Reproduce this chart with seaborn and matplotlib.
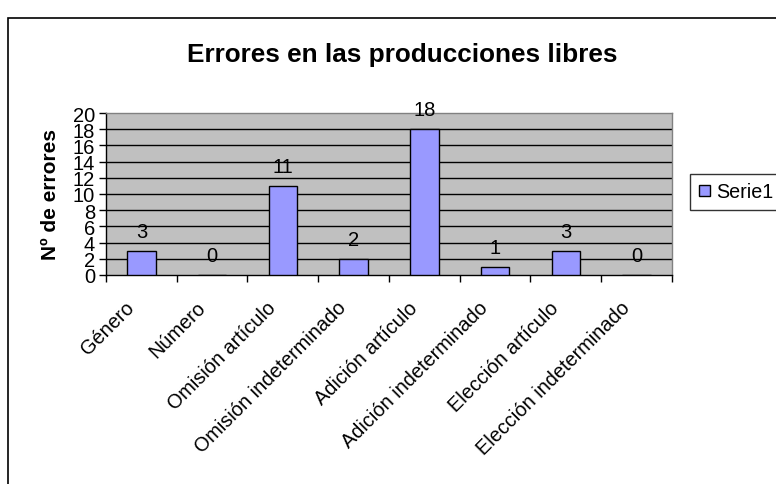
import matplotlib
matplotlib.use("Agg")
import matplotlib.pyplot as plt
import seaborn as sns
import pandas as pd
from matplotlib.patches import Rectangle, Patch

categories = ["Género", "Número", "Omisión artículo", "Omisión indeterminado",
              "Adición artículo", "Adición indeterminado", "Elección artículo",
              "Elección indeterminado"]
values = [3, 0, 11, 2, 18, 1, 3, 0]
yticks = list(range(0, 21, 2))
series_name = "Serie1"
title = "Errores en las producciones libres"
ylabel = "Nº de errores"

sns.set_style("white")
plt.rcParams['font.family'] = ['Liberation Sans', 'DejaVu Sans']
plt.rcParams['text.color'] = 'black'
plt.rcParams['xtick.color'] = 'black'
plt.rcParams['ytick.color'] = 'black'
plt.rcParams['axes.labelcolor'] = 'black'

df = pd.DataFrame({"cat": categories, "val": values})

fig = plt.figure(figsize=(7.76, 4.85), dpi=100)
ax = fig.add_axes([106/776, 1-276/485, (672-106)/776, (276-114)/485])
ax.set_facecolor("#C0C0C0")

sns.barplot(data=df, x="cat", y="val", color="#9999FF", edgecolor="black",
            linewidth=1, width=0.4, saturation=1, ax=ax, zorder=3)

ax.set_ylim(0, 20)
ax.set_xlim(-0.5, len(categories) - 0.5)
ax.set_yticks(yticks)
ax.set_yticklabels([str(t) for t in yticks], fontsize=14.5)
for t in yticks[1:-1]:
    ax.axhline(t, color="black", lw=1, zorder=1)

# label anchors sit slightly left of each category centre, as in the reference
label_offset = 0.14
ax.set_xticks([i - label_offset for i in range(len(categories))])
ax.set_xticklabels(categories, fontsize=14.3, rotation=45, ha="right",
                   rotation_mode="anchor", va="center")
ax.set_xticks([i - 0.5 for i in range(len(categories) + 1)], minor=True)
ax.tick_params(axis="x", which="major", length=0, pad=21)
ax.tick_params(axis="x", which="minor", length=5, width=1, color="black", direction="out", bottom=True)
ax.tick_params(axis="y", length=5, width=1, color="black", direction="out", left=True, pad=3)

ax.set_xlabel("")
ax.set_ylabel("")
for s in ["left", "bottom"]:
    ax.spines[s].set_color("black")
    ax.spines[s].set_linewidth(1)
for s in ["top", "right"]:
    ax.spines[s].set_color("#808080")
    ax.spines[s].set_linewidth(1)

for c in ax.containers:
    ax.bar_label(c, labels=[str(v) for v in values], padding=7, fontsize=14.5)

fig.text(402/776, 1-62/485, title, ha="center", va="baseline", fontsize=18.8, fontweight="bold")
fig.text(51/776, 1-195/485, ylabel, ha="center", va="center", rotation=90, fontsize=15, fontweight="bold")

fig.patches.append(Rectangle((7.5/776, -0.1), 1.2, 1 - 19/485 + 0.1, transform=fig.transFigure,
                             fill=False, edgecolor="black", lw=1.2, figure=fig))

handle = Patch(facecolor="#9999FF", edgecolor="black", lw=1)
leg = fig.legend([handle], [series_name], loc="center left",
                 bbox_to_anchor=(690/776, 1-193/485), borderaxespad=0,
                 fontsize=14.2, handlelength=0.55, handleheight=0.55, handletextpad=0.35,
                 borderpad=0.45, fancybox=False, frameon=True)
leg.get_frame().set_edgecolor("black")
leg.get_frame().set_linewidth(1)

fig.savefig("out.png", dpi=100)
